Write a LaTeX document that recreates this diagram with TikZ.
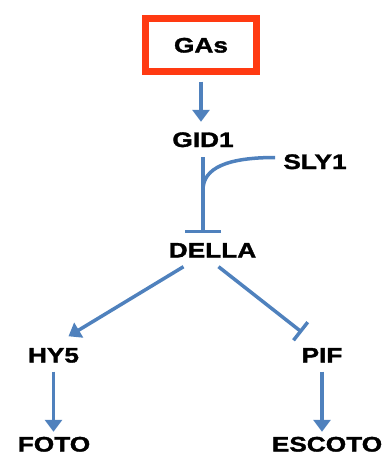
\documentclass[tikz,border=0pt]{standalone}
\usepackage{fontspec}
\setmainfont{Liberation Sans}
\newfontfamily\labfont[FakeStretch=1.25,BoldFeatures={FakeBold=1.6}]{Liberation Sans}
\usetikzlibrary{arrows.meta,calc}
\definecolor{gasred}{HTML}{FF3A12}
\definecolor{linkblue}{HTML}{4F81BD}

\begin{document}
\begin{tikzpicture}[x=1pt,y=-1pt,
 lab/.style={font=\labfont\fontsize{21}{25}\selectfont\bfseries,inner sep=0pt,text height=15pt,text depth=0pt},
 link/.style={draw=linkblue,line width=3.5pt},
 act/.style={link,-{Triangle[length=12pt,width=17pt]}},
 inh/.style={link,-{Bar[width=#1]}}]
\useasboundingbox (0,0) rectangle (386,456);
% nodes
\node[lab,draw=gasred,line width=7pt,minimum width=111pt,minimum height=53pt] (gas) at (201,45) {GAs};
\node[lab] (gid) at (203,139.5) {GID1};
\node[lab] (sly) at (315,161.5) {SLY1};
\node[lab] (della) at (212.5,250) {DELLA};
\node[lab] (hy) at (53.5,355) {HY5};
\node[lab] (pif) at (322,355) {PIF};
\node[lab] (foto) at (54,444) {FOTO};
\node[lab] (escoto) at (327,444) {ESCOTO};
% links
\draw[act,shorten <=6.5pt,shorten >=10pt] (gas) -- (gas |- gid.north);
\draw[inh=36pt,shorten <=10pt,shorten >=9pt] (gid.south) -- (gid.south |- della.north);
\coordinate (jn) at ($(gid.south)!0.45!(gid.south |- della.north)$);
\draw[link] ($(sly.west)+(-8,-4)$) .. controls +(-48,0) and +(0,-22) .. (jn);
\draw[act] ($(della.south)+(-29,9)$) -- ($(hy.north)+(15,-11)$);
\draw[inh=23pt] ($(della.south)+(6,9)$) -- ($(pif.north)+(-20,-15)$);
\draw[act,shorten <=9pt,shorten >=4.5pt] (hy.south) -- (hy.south |- foto.north);
\draw[act,shorten <=9pt,shorten >=4.5pt] (pif.south) -- (pif.south |- escoto.north);
\end{tikzpicture}
\end{document}
